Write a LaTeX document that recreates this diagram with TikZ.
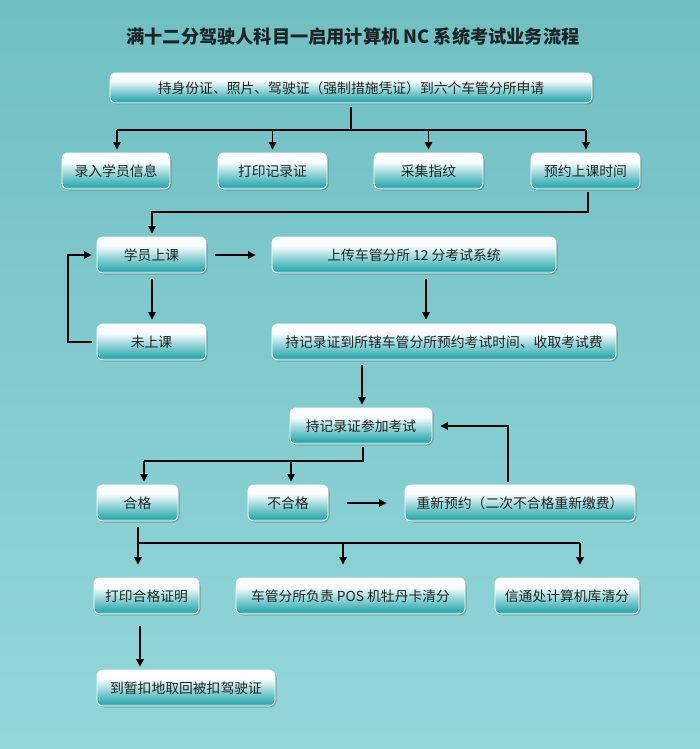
\documentclass[tikz,border=0pt]{standalone}
\usepackage{fontspec}
\setmainfont{Noto Sans CJK SC}
\newfontfamily\cjk{Noto Sans CJK SC}
\usetikzlibrary{arrows.meta,shadows}
\definecolor{bgtop}{HTML}{6FBFC3}
\definecolor{bgbot}{HTML}{93D7D9}
\definecolor{tealA}{HTML}{2DAAB0}
\definecolor{txt}{HTML}{1E2424}
\pgfdeclareverticalshading{boxshade}{100bp}{color(0bp)=(tealA!55!white); color(25bp)=(tealA!55!white); color(29bp)=(tealA); color(45bp)=(tealA!55!white); color(62bp)=(white!96!tealA); color(75bp)=(white); color(100bp)=(white)}
\tikzset{
  box/.style={draw=white, line width=0.9pt, rounded corners=6pt, shading=boxshade,
    minimum height=36pt, inner sep=0pt, text=txt, font=\cjk\fontsize{13.8}{15}\selectfont,
    drop shadow={shadow xshift=1.5pt, shadow yshift=-1.5pt, opacity=0.35, fill=black!70}},
  arr/.style={draw=black, line width=1.2pt, -{Triangle[length=7.5pt,width=7.5pt]}},
  ln/.style={draw=black, line width=1.2pt},
}
\begin{document}
\begin{tikzpicture}[x=1pt,y=-1pt]
\fill[top color=bgtop, bottom color=bgbot] (0,0) rectangle (700,749);
\useasboundingbox (0,0) rectangle (700,749);
\node[text=txt, font=\cjk\bfseries\fontsize{18.2}{21}\selectfont] (title) at (353,37) {满十二分驾驶人科目一启用计算机 NC 系统考试业务流程};
% boxes
\node[box, minimum width=482pt, minimum height=30pt] (A) at (351,88) {持身份证、照片、驾驶证（强制措施凭证）到六个车管分所申请};
\node[box, minimum width=108pt] (b1) at (116,171) {录入学员信息};
\node[box, minimum width=109pt] (b2) at (272.5,171) {打印记录证};
\node[box, minimum width=109pt] (b3) at (428.5,171) {采集指纹};
\node[box, minimum width=109pt] (b4) at (585.5,171) {预约上课时间};
\node[box, minimum width=109pt] (c1) at (151.5,255) {学员上课};
\node[box, minimum width=284pt] (c2) at (414,255) {上传车管分所 12 分考试系统};
\node[box, minimum width=109pt] (d1) at (151.5,342) {未上课};
\node[box, minimum width=344pt] (d2) at (444,342) {持记录证到所辖车管分所预约考试时间、收取考试费};
\node[box, minimum width=142pt] (e1) at (361,426) {持记录证参加考试};
\node[box, minimum width=81pt] (f1) at (137.5,503) {合格};
\node[box, minimum width=80pt] (f2) at (288,503) {不合格};
\node[box, minimum width=230pt] (f3) at (520,503) {重新预约（二次不合格重新缴费）};
\node[box, minimum width=105pt] (g1) at (146.5,596) {打印合格证明};
\node[box, minimum width=229pt] (g2) at (350.5,596) {车管分所负责 POS 机牡丹卡清分};
\node[box, minimum width=144pt] (g3) at (567,596) {信通处计算机库清分};
\node[box, minimum width=178pt] (h1) at (186,688) {到暂扣地取回被扣驾驶证};
% coordinates
\coordinate (j1) at (351,130);
\coordinate (j1a) at (117,130);
\coordinate (j1b) at (586,130);
\coordinate (j2) at (588,212);
\coordinate (j3) at (152,212);
\coordinate (lp) at (68,300);
\coordinate (x152) at (152,300);
\coordinate (x426) at (426,300);
\coordinate (x362) at (362,380);
\coordinate (k0) at (363,461);
\coordinate (k1) at (144,461);
\coordinate (k2) at (291,461);
\coordinate (x508) at (508,460);
\coordinate (m1) at (138,543);
\coordinate (m2) at (343,543);
\coordinate (m3) at (580,543);
\coordinate (x140) at (140,640);
% connectors
\draw[ln, shorten <=4pt] (A.south) -- (j1);
\draw[ln] (j1a) -- (j1b);
\draw[arr, shorten >=3pt] (j1a) -- (j1a |- b1.north);
\draw[arr, shorten >=3pt] (j1 -| b2) -- (b2.north);
\draw[arr, shorten >=3pt] (j1 -| b3) -- (b3.north);
\draw[arr, shorten >=3pt] (j1b) -- (j1b |- b4.north);
\draw[arr, shorten <=3pt, shorten >=3pt] (j2 |- b4.south) -- (j2) -- (j3) -- (j3 |- c1.north);
\draw[arr, shorten <=9pt, shorten >=16pt] (c1.east) -- (c2.west);
\draw[arr, shorten <=6pt, shorten >=4pt] (x152 |- c1.south) -- (x152 |- d1.north);
\draw[arr, shorten <=5pt, shorten >=5pt] (d1.west) -| (lp) |- (c1.west);
\draw[arr, shorten <=6pt, shorten >=4pt] (x426 |- c2.south) -- (x426 |- d2.north);
\draw[arr, shorten <=5pt, shorten >=3pt] (x362 |- d2.south) -- (x362 |- e1.north);
\draw[ln, shorten <=3pt] (k0 |- e1.south) -- (k0) -- (k1);
\draw[arr, shorten >=3pt] (k1) -- (k1 |- f1.north);
\draw[arr, shorten >=3pt] (k2) -- (k2 |- f2.north);
\draw[arr, shorten <=19pt, shorten >=18pt] (f2.east) -- (f3.west);
\draw[arr, shorten <=3pt, shorten >=8pt] (x508 |- f3.north) |- (e1.east);
\draw[ln, shorten <=6pt] (m1 |- f1.south) -- (m1) -- (m3);
\draw[arr, shorten >=13pt] (m1) -- (m1 |- g1.north);
\draw[arr, shorten >=13pt] (m2) -- (m2 |- g2.north);
\draw[arr, shorten >=13pt] (m3) -- (m3 |- g3.north);
\draw[arr, shorten <=12pt, shorten >=3pt] (x140 |- g1.south) -- (x140 |- h1.north);
\end{tikzpicture}
\end{document}
